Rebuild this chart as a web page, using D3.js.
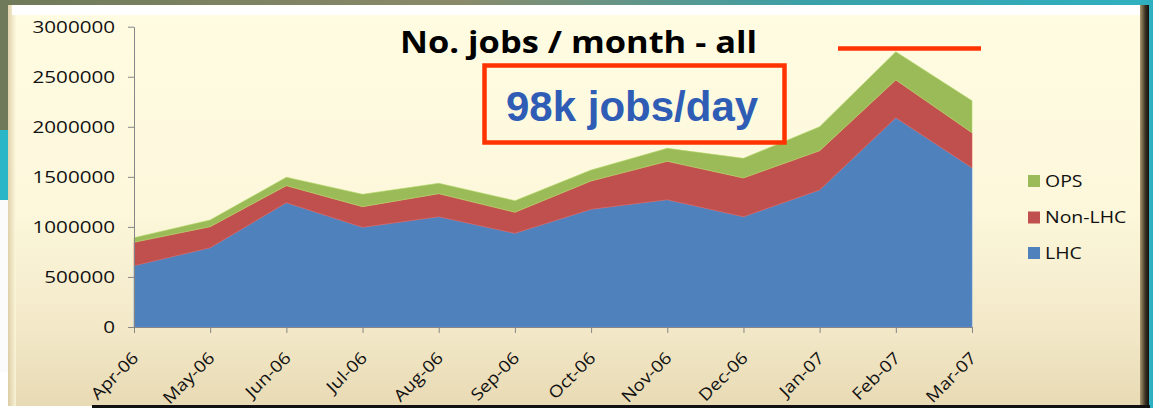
<!DOCTYPE html>
<html>
<head>
<meta charset="utf-8">
<script src="https://cdn.jsdelivr.net/npm/d3@7"></script>
<style>
  html, body { margin: 0; padding: 0; background: #fff; }
  svg { display: block; }
  text { font-family: "Open Sans", "DejaVu Sans", sans-serif; }
</style>
</head>
<body>
<svg id="chart" width="1153" height="408"></svg>
<script>
// ---- data ----
const months = ["Apr-06","May-06","Jun-06","Jul-06","Aug-06","Sep-06","Oct-06","Nov-06","Dec-06","Jan-07","Feb-07","Mar-07"];
const lhc    = [612000, 792000, 1242000, 996000, 1102000, 936000, 1176000, 1272000, 1102000, 1369000, 2091000, 1591000];
const nonLhc = [234000, 210000, 170000, 206000, 230000, 210000, 283000, 383000, 387000, 392000, 377000, 350000];
const ops    = [46000, 67000, 84000, 124000, 104000, 116000, 109000, 130000, 196000, 240000, 282000, 320000];
const seriesNames = ["LHC", "Non-LHC", "OPS"];
const yTicks = [0, 500000, 1000000, 1500000, 2000000, 2500000, 3000000];
const legendOrder = ["OPS", "Non-LHC", "LHC"];
const titleText = "No. jobs / month - all";
const noteText = "98k jobs/day";

const colors = { "LHC": "#4F81BD", "Non-LHC": "#C0504D", "OPS": "#9BBB59" };

const rows = months.map((m, i) => ({ month: m, "LHC": lhc[i], "Non-LHC": nonLhc[i], "OPS": ops[i] }));

const svg = d3.select("#chart");
const defs = svg.append("defs");

// background texture approximation
const bgGrad = defs.append("linearGradient").attr("id", "bg").attr("x1", 0).attr("y1", 0).attr("x2", 1).attr("y2", 0);
bgGrad.append("stop").attr("offset", "0%").attr("stop-color", "#6f7a5a");
bgGrad.append("stop").attr("offset", "40%").attr("stop-color", "#8a8a6a");
bgGrad.append("stop").attr("offset", "70%").attr("stop-color", "#3aa0a8");
bgGrad.append("stop").attr("offset", "100%").attr("stop-color", "#2fb0c0");
svg.append("rect").attr("x", 0).attr("y", 0).attr("width", 1153).attr("height", 408).attr("fill", "url(#bg)");
svg.append("rect").attr("x", 0).attr("y", 130).attr("width", 10).attr("height", 70).attr("fill", "#2bb6c8");
svg.append("rect").attr("x", 0).attr("y", 200).attr("width", 16).attr("height", 208).attr("fill", "#fbfbfb");
svg.append("rect").attr("x", 0).attr("y", 372).attr("width", 95).attr("height", 36).attr("fill", "#ffffff");

// panel
const pGrad = defs.append("linearGradient").attr("id", "panel").attr("x1", 0).attr("y1", 0).attr("x2", 0).attr("y2", 1);
pGrad.append("stop").attr("offset", "0%").attr("stop-color", "#FFFCE2");
pGrad.append("stop").attr("offset", "50%").attr("stop-color", "#FDF8DC");
pGrad.append("stop").attr("offset", "80%").attr("stop-color", "#F3E9C9");
pGrad.append("stop").attr("offset", "100%").attr("stop-color", "#E8DAB4");
const shGrad = defs.append("linearGradient").attr("id", "shadow").attr("x1", 0).attr("y1", 0).attr("x2", 1).attr("y2", 0);
shGrad.append("stop").attr("offset", "0%").attr("stop-color", "#a89870");
shGrad.append("stop").attr("offset", "60%").attr("stop-color", "#3a3020");
shGrad.append("stop").attr("offset", "100%").attr("stop-color", "#111");
const lGrad = defs.append("linearGradient").attr("id", "lbevel").attr("x1", 0).attr("y1", 0).attr("x2", 1).attr("y2", 0);
lGrad.append("stop").attr("offset", "0%").attr("stop-color", "#d9c9a0");
lGrad.append("stop").attr("offset", "100%").attr("stop-color", "#FDF8DC");

svg.append("rect").attr("x", 8).attr("y", 5).attr("width", 1141).attr("height", 401).attr("fill", "url(#panel)");
svg.append("rect").attr("x", 8).attr("y", 5).attr("width", 8).attr("height", 401).attr("fill", "url(#lbevel)").attr("opacity", 0.8);
svg.append("rect").attr("x", 12).attr("y", 5).attr("width", 1130).attr("height", 10).attr("fill", "#ffffff");
svg.append("rect").attr("x", 1140).attr("y", 5).attr("width", 9).attr("height", 401).attr("fill", "url(#shadow)");
svg.append("line").attr("x1", 92).attr("x2", 1150).attr("y1", 406.5).attr("y2", 406.5).attr("stroke", "#111").attr("stroke-width", 3);

// scales
const x = d3.scalePoint().domain(months).range([134, 972]);
const y = d3.scaleLinear().domain([0, 3000000]).range([327, 26.7]);

// stacked areas
const stack = d3.stack().keys(seriesNames);
const layers = stack(rows);
const area = d3.area()
  .x(d => x(d.data.month))
  .y0(d => y(d[0]))
  .y1(d => y(d[1]));
svg.append("g").selectAll("path").data(layers).join("path")
  .attr("d", area)
  .attr("fill", d => colors[d.key])
  .attr("stroke", d => d3.color(colors[d.key]).brighter(0.4))
  .attr("stroke-width", 0.6);

// y axis
const yAxis = svg.append("g").attr("transform", "translate(134,0)")
  .call(d3.axisLeft(y).tickValues(yTicks).tickFormat(d3.format("d")).tickSize(6).tickSizeOuter(0));
yAxis.select(".domain").attr("stroke", "#868686");
yAxis.selectAll(".tick line").attr("stroke", "#868686");
yAxis.selectAll(".tick text")
  .attr("font-size", 16.5).attr("fill", "#111")
  .attr("x", -19 / 1.25).attr("dy", "0.36em")
  .attr("transform", "scale(1.25,1)");

// x axis
const xAxis = svg.append("g").attr("transform", "translate(0,327)")
  .call(d3.axisBottom(x).tickSize(6).tickSizeOuter(0));
xAxis.select(".domain").attr("stroke", "#868686");
xAxis.selectAll(".tick line").attr("stroke", "#868686");
xAxis.selectAll(".tick text")
  .attr("font-size", 16.5).attr("fill", "#111")
  .attr("x", 0).attr("y", 0).attr("dy", 0)
  .attr("text-anchor", "end")
  .attr("transform", "translate(5,32) rotate(-45) scale(1.15,1)");

// title
svg.append("text").attr("x", 400).attr("y", 53)
  .attr("font-size", 30).attr("font-weight", 700).attr("fill", "#000")
  .attr("textLength", 357).attr("lengthAdjust", "spacingAndGlyphs")
  .text(titleText);

// red annotation box
svg.append("rect").attr("x", 484.5).attr("y", 65.5).attr("width", 300).attr("height", 77)
  .attr("fill", "none").attr("stroke", "#FF3300").attr("stroke-width", 4.5);
svg.append("text").attr("x", 506).attr("y", 121)
  .style("font-family", "'Liberation Sans', Arial, sans-serif")
  .attr("font-size", 42).attr("font-weight", 700).attr("fill", "#2F5DB5")
  .text(noteText);

// red line at peak
svg.append("line").attr("x1", 838).attr("x2", 981).attr("y1", 48.5).attr("y2", 48.5)
  .attr("stroke", "#FF3300").attr("stroke-width", 4.5);

// legend
const legend = svg.append("g");
const legY = { "OPS": 181, "Non-LHC": 217.5, "LHC": 253 };
legendOrder.forEach(k => {
  legend.append("rect").attr("x", 1028).attr("y", legY[k] - 6).attr("width", 12).attr("height", 12).attr("fill", colors[k]);
  legend.append("text").attr("x", 1045 / 1.18).attr("y", legY[k] + 6)
    .attr("font-size", 16.5).attr("fill", "#111")
    .attr("transform", "scale(1.18,1)")
    .text(k);
});
</script>
</body>
</html>
